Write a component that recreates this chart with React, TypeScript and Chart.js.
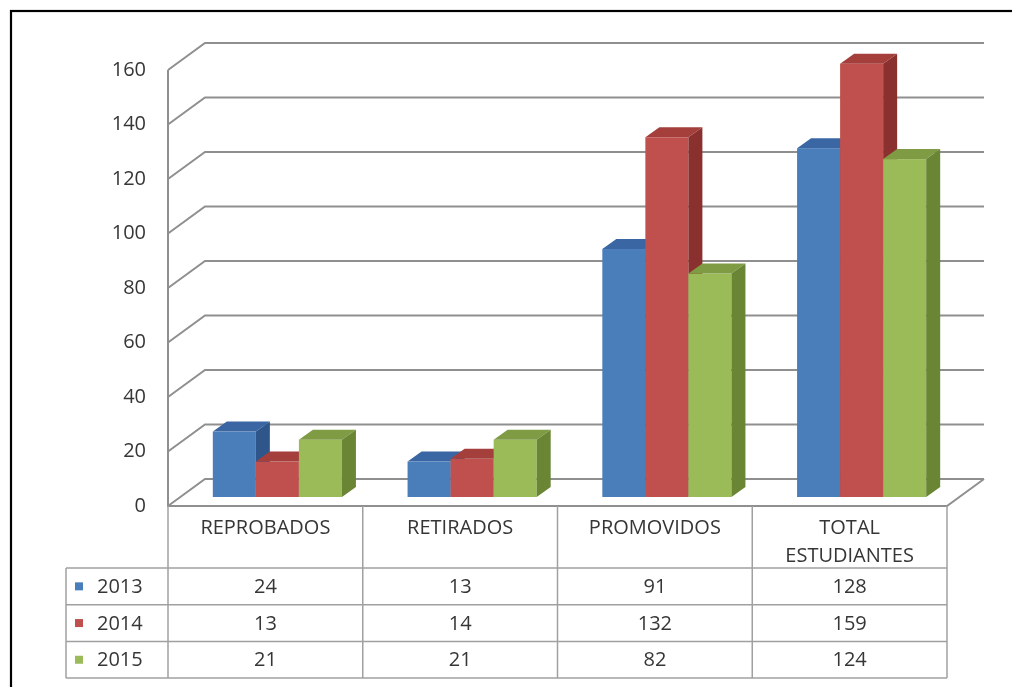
import React, { useEffect, useRef } from 'react';
import { Chart, registerables } from 'chart.js';

Chart.register(...registerables);

// ---- data ----
const categories: (string | string[])[] = ['REPROBADOS', 'RETIRADOS', 'PROMOVIDOS', ['TOTAL', 'ESTUDIANTES']];
const seriesNames = ['2013', '2014', '2015'];
const values2013 = [24, 13, 91, 128];
const values2014 = [13, 14, 132, 159];
const values2015 = [21, 21, 82, 124];
const yMin = 0;
const yMax = 160;
const yStep = 20;

// ---- styles ----
const FONT = '"Open Sans", "Noto Sans", sans-serif';
const TEXT = '#363636';
const GRID = '#8f8f8f';
const TABLE_LINE = '#a0a0a0';
const FRONT = ['#4a7ebb', '#c0504d', '#9bbb59'];
const TOPC = ['#3a67a3', '#a53f3c', '#7f9c44'];
const SIDE = ['#2f568a', '#8a312f', '#6a8534'];

const WDX = 37, WDY = -27; // wall depth
const PDX = 12, PDY = -9; // bar plane offset
const BDX = 14, BDY = -10; // bar depth
const HEADER_H = 62;
const ROW_H = 36.7;
const LEGEND_LEFT = 66;

const threeD = {
  id: 'threeD',
  beforeDatasetDraw() {
    return false;
  },
  afterDatasetsDraw(chart: any) {
    const ctx: CanvasRenderingContext2D = chart.ctx;
    const { left, right } = chart.chartArea;
    const ys = chart.scales.y;
    ctx.save();
    // walls / gridlines
    ctx.strokeStyle = GRID;
    ctx.lineWidth = 2;
    ys.ticks.forEach((t: any) => {
      const py = ys.getPixelForValue(t.value);
      ctx.beginPath();
      ctx.moveTo(left, py);
      ctx.lineTo(left + WDX, py + WDY);
      ctx.lineTo(right + WDX, py + WDY);
      ctx.stroke();
    });
    const y0 = ys.getPixelForValue(yMin);
    const yTop = ys.getPixelForValue(yMax);
    ctx.beginPath();
    ctx.moveTo(left, yTop);
    ctx.lineTo(left, y0);
    ctx.lineTo(right, y0);
    ctx.lineTo(right + WDX, y0 + WDY);
    ctx.stroke();

    // bars
    const n = categories.length;
    for (let i = 0; i < n; i++) {
      for (let d = 0; d < chart.data.datasets.length; d++) {
        const meta = chart.getDatasetMeta(d);
        const el = meta.data[i];
        if (!el) continue;
        const { x, y, base, width } = el.getProps(['x', 'y', 'base', 'width'], true);
        const l = x - width / 2 + PDX;
        const r = x + width / 2 + PDX;
        const t = y + PDY;
        const b = base + PDY;
        ctx.fillStyle = FRONT[d];
        ctx.fillRect(l, t, r - l, b - t);
        ctx.fillStyle = TOPC[d];
        ctx.beginPath();
        ctx.moveTo(l, t);
        ctx.lineTo(r, t);
        ctx.lineTo(r + BDX, t + BDY);
        ctx.lineTo(l + BDX, t + BDY);
        ctx.closePath();
        ctx.fill();
        ctx.fillStyle = SIDE[d];
        ctx.beginPath();
        ctx.moveTo(r, t);
        ctx.lineTo(r + BDX, t + BDY);
        ctx.lineTo(r + BDX, b + BDY);
        ctx.lineTo(r, b);
        ctx.closePath();
        ctx.fill();
      }
    }
    ctx.restore();
  },
  afterDraw(chart: any) {
    const ctx: CanvasRenderingContext2D = chart.ctx;
    const { left, right, bottom } = chart.chartArea;
    const xs = chart.scales.x;
    const n = categories.length;
    const catW = (right - left) / n;
    const bounds: number[] = [];
    for (let i = 0; i < n; i++) bounds.push(xs.getPixelForValue(i) - catW / 2);
    bounds.push(xs.getPixelForValue(n - 1) + catW / 2);

    ctx.save();
    ctx.strokeStyle = TABLE_LINE;
    ctx.lineWidth = 1.5;
    const hTop = bottom;
    const hBot = bottom + HEADER_H;
    const rows = seriesNames.length;
    const tBot = hBot + rows * ROW_H;
    bounds.forEach((bx) => {
      ctx.beginPath();
      ctx.moveTo(bx, hTop);
      ctx.lineTo(bx, tBot);
      ctx.stroke();
    });
    ctx.beginPath();
    ctx.moveTo(LEGEND_LEFT, hBot);
    ctx.lineTo(LEGEND_LEFT, tBot);
    ctx.stroke();
    for (let r = 0; r <= rows; r++) {
      const yy = hBot + r * ROW_H;
      ctx.beginPath();
      ctx.moveTo(LEGEND_LEFT, yy);
      ctx.lineTo(bounds[n], yy);
      ctx.stroke();
    }

    // header text
    ctx.fillStyle = TEXT;
    ctx.font = '20px ' + FONT;
    ctx.textAlign = 'center';
    ctx.textBaseline = 'middle';
    for (let i = 0; i < n; i++) {
      const cx = xs.getPixelForValue(i);
      const lab = categories[i];
      const lines = Array.isArray(lab) ? lab : [lab];
      lines.forEach((ln, k) => ctx.fillText(ln, cx, hTop + 22 + k * 28.5));
    }
    // values + legend keys
    const series = [values2013, values2014, values2015];
    for (let r = 0; r < rows; r++) {
      const cy = hBot + r * ROW_H + ROW_H / 2 + 1;
      for (let i = 0; i < n; i++) {
        ctx.fillStyle = TEXT;
        ctx.textAlign = 'center';
        ctx.fillText(String(series[r][i]), xs.getPixelForValue(i), cy);
      }
      ctx.fillStyle = FRONT[r];
      ctx.fillRect(LEGEND_LEFT + 9, cy - 5, 8, 8);
      ctx.fillStyle = TEXT;
      ctx.textAlign = 'left';
      ctx.fillText(seriesNames[r], LEGEND_LEFT + 31, cy);
    }

    // outer frame
    ctx.strokeStyle = '#000';
    ctx.lineWidth = 2.2;
    ctx.strokeRect(11, 11, 1100, 1000);
    ctx.restore();
  },
};

export default function App() {
  const ref = useRef<HTMLCanvasElement | null>(null);
  useEffect(() => {
    if (!ref.current) return;
    const chart = new Chart(ref.current, {
      type: 'bar',
      data: {
        labels: categories as any,
        datasets: [
          { label: seriesNames[0], data: values2013, backgroundColor: FRONT[0] },
          { label: seriesNames[1], data: values2014, backgroundColor: FRONT[1] },
          { label: seriesNames[2], data: values2015, backgroundColor: FRONT[2] },
        ],
      },
      options: {
        animation: false,
        responsive: true,
        maintainAspectRatio: false,
        layout: { padding: { top: 70, bottom: 181, left: 0, right: 65 } },
        datasets: { bar: { categoryPercentage: 0.663, barPercentage: 1 } } as any,
        plugins: { legend: { display: false }, tooltip: { enabled: false } },
        scales: {
          x: { display: false },
          y: {
            min: yMin,
            max: yMax,
            ticks: { stepSize: yStep, padding: 22, color: TEXT, font: { family: FONT, size: 20 } },
            grid: { display: false, drawTicks: false },
            border: { display: false },
            afterFit: (scale: any) => {
              scale.width = 168;
            },
          },
        },
      },
      plugins: [threeD],
    });
    return () => chart.destroy();
  }, []);
  return (
    <div style={{ position: 'absolute', left: 0, top: 0, width: 1012, height: 687, background: '#fff' }}>
      <canvas ref={ref} />
    </div>
  );
}
